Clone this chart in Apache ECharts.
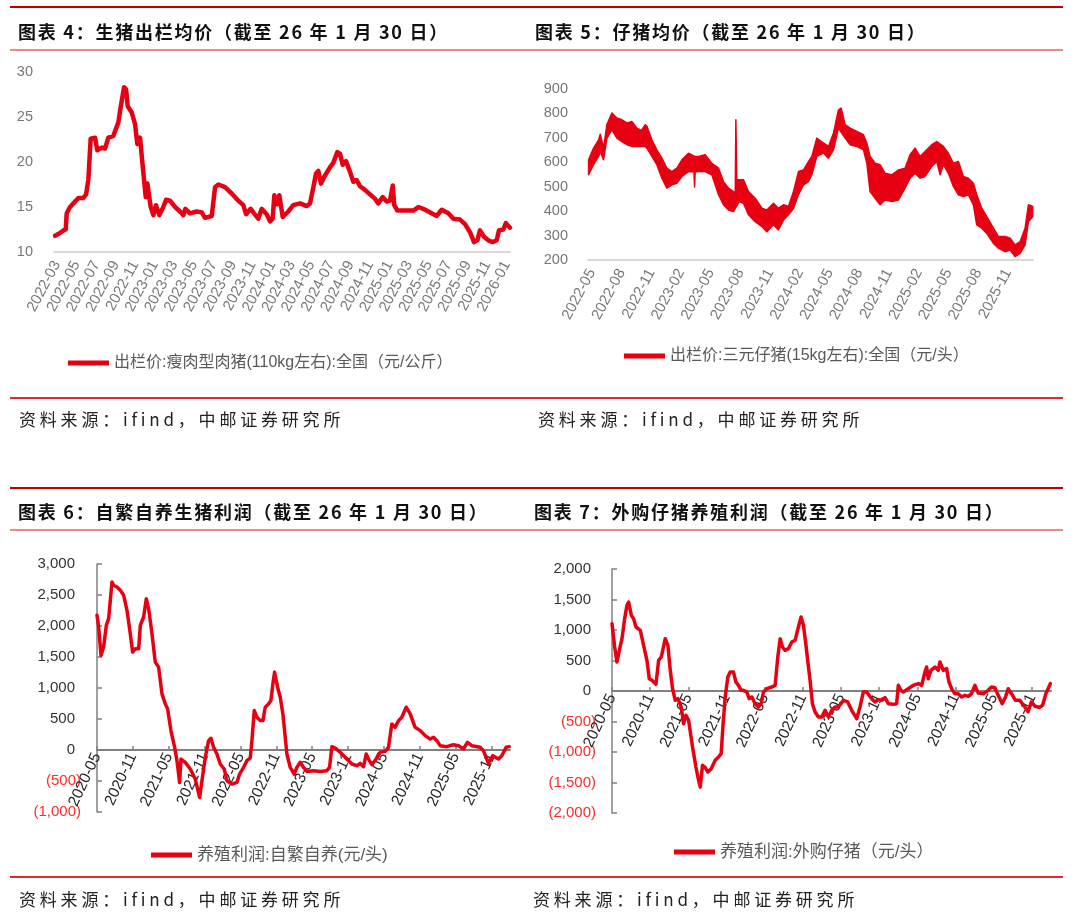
<!DOCTYPE html>
<html>
<head>
<meta charset="utf-8">
<title>生猪价格与养殖利润</title>
<script src="https://cdn.jsdelivr.net/npm/echarts@6/dist/echarts.min.js"></script>
<style>
    html, body { margin: 0; padding: 0; background: #fff; }
    #page { position: relative; width: 1080px; height: 921px; overflow: hidden; }
    #chart { position: absolute; left: 0; top: 0; width: 1080px; height: 921px; }
    .rule { position: absolute; left: 10px; width: 1053px; z-index: 2; }
    .rule.top { height: 2px; background: #c00000; }
    .rule.sub { height: 1.5px; background: #e98b8b; }
    .rule.end { height: 1.5px; background: #dd2a30; }
    .title, .source { position: absolute; z-index: 2; white-space: nowrap; line-height: 22px; }
    .title { font: bold 18px "Noto Sans CJK SC", sans-serif; letter-spacing: 1.75px; color: #111; }
    .source { font: 17px "Noto Sans CJK SC", sans-serif; letter-spacing: 3.8px; color: #222; }
</style>
</head>
<body>
<div id="page">
    <div id="chart"></div>

    <div class="rule top" style="top:6px"></div>
    <div class="rule sub" style="top:49px"></div>
    <div class="rule end" style="top:397px"></div>
    <div class="rule top" style="top:487px"></div>
    <div class="rule sub" style="top:529px"></div>
    <div class="rule end" style="top:876px"></div>

    <div class="title" style="left:18px;top:18px">图表 4：生猪出栏均价（截至 26 年 1 月 30 日）</div>
    <div class="title" style="left:535px;top:18px">图表 5：仔猪均价（截至 26 年 1 月 30 日）</div>
    <div class="title" style="left:18px;top:498px">图表 6：自繁自养生猪利润（截至 26 年 1 月 30 日）</div>
    <div class="title" style="left:534px;top:498px">图表 7：外购仔猪养殖利润（截至 26 年 1 月 30 日）</div>

    <div class="source" style="left:19px;top:406px">资料来源：ifind，中邮证券研究所</div>
    <div class="source" style="left:538px;top:406px">资料来源：ifind，中邮证券研究所</div>
    <div class="source" style="left:19px;top:886px">资料来源：ifind，中邮证券研究所</div>
    <div class="source" style="left:533px;top:886px">资料来源：ifind，中邮证券研究所</div>
</div>
<script>
// x 值均为“距首个刻度月份的月数”
// 图4 出栏价（元/公斤），首刻度 2022-03
var hogLabels = ['2022-03', '2022-05', '2022-07', '2022-09', '2022-11', '2023-01', '2023-03', '2023-05',
    '2023-07', '2023-09', '2023-11', '2024-01', '2024-03', '2024-05', '2024-07', '2024-09', '2024-11',
    '2025-01', '2025-03', '2025-05', '2025-07', '2025-09', '2025-11', '2026-01'];
var hogPrice = [[-0.2, 11.8], [0.31, 12.1], [0.65, 12.4], [0.89, 12.5], [0.99, 14.3], [1.33, 15.0], [1.84, 15.6],
    [2.18, 16.0], [2.69, 16.0], [2.97, 16.4], [3.2, 18.0], [3.44, 22.6], [3.89, 22.7], [4.12, 21.3], [4.57, 21.6],
    [4.91, 21.5], [5.25, 22.7], [5.76, 22.9], [6.27, 24.4], [6.51, 26.1], [6.85, 28.3], [7.06, 28.1], [7.23, 26.2],
    [7.64, 25.5], [7.98, 24.2], [8.21, 22.0], [8.49, 22.7], [8.66, 20.7], [8.9, 18.0], [9.07, 16.1], [9.24, 17.6],
    [9.58, 15.0], [9.85, 14.1], [10.12, 15.2], [10.46, 14.1], [10.87, 15.0], [11.15, 15.8], [11.55, 15.7],
    [12.07, 15.0], [12.58, 14.5], [12.92, 14.1], [13.12, 14.8], [13.6, 14.3], [14.28, 14.5], [14.8, 14.4],
    [15.13, 13.8], [15.82, 14.0], [16.16, 17.2], [16.5, 17.5], [17.18, 17.2], [17.86, 16.5], [18.54, 15.7],
    [19.05, 15.2], [19.33, 14.2], [19.8, 14.8], [20.14, 14.3], [20.58, 13.7], [20.93, 14.8], [21.44, 14.2],
    [21.78, 13.4], [22.05, 13.7], [22.22, 16.3], [22.53, 15.3], [22.73, 16.3], [23.08, 13.9], [23.65, 14.5],
    [24.16, 15.2], [24.85, 15.4], [25.53, 15.1], [25.87, 15.4], [26.21, 17.2], [26.48, 18.7], [26.72, 19.0],
    [26.99, 17.6], [27.4, 18.5], [27.91, 19.4], [28.25, 19.9], [28.66, 21.1], [28.94, 20.9], [29.21, 19.7],
    [29.55, 20.1], [29.96, 18.9], [30.3, 17.8], [30.64, 18.0], [30.98, 17.3], [31.49, 16.9], [32.0, 16.4],
    [32.52, 15.9], [32.85, 15.4], [33.3, 16.1], [33.71, 15.6], [34.05, 15.7], [34.33, 17.4], [34.49, 15.2],
    [34.8, 14.6], [35.42, 14.6], [36.44, 14.6], [36.95, 15.0], [37.63, 14.7], [38.31, 14.3], [38.82, 14.0],
    [39.34, 14.7], [40.02, 14.3], [40.53, 13.7], [41.21, 13.6], [41.72, 13.1], [42.23, 12.2], [42.64, 11.1],
    [42.98, 11.3], [43.25, 12.4], [43.66, 11.7], [44.1, 11.3], [44.55, 11.1], [44.96, 11.3], [45.19, 12.4],
    [45.63, 12.5], [45.9, 13.2], [46.32, 12.7]];

// 图5 仔猪价（元/头），日度波动大，读取上下包络，首刻度 2022-05
var pigletLabels = ['2022-05', '2022-08', '2022-11', '2023-02', '2023-05', '2023-08', '2023-11', '2024-02',
    '2024-05', '2024-08', '2024-11', '2025-02', '2025-05', '2025-08', '2025-11'];
var pigletHigh = [[-0.34, 610], [0.16, 658], [0.67, 692], [0.84, 715], [1.17, 658], [1.51, 754], [2.01, 802],
    [2.52, 781], [3.02, 774], [3.53, 761], [4.03, 767], [4.53, 740], [5.0, 730], [5.38, 754], [5.55, 747],
    [6.05, 692], [6.55, 651], [7.06, 617], [7.56, 576], [8.07, 562], [8.57, 576], [9.08, 610], [9.75, 637],
    [10.36, 624], [10.76, 624], [11.43, 631], [12.1, 596], [12.78, 576], [13.28, 521], [13.79, 494], [14.29, 480],
    [14.47, 478], [14.53, 774], [14.62, 528], [14.86, 528], [15.3, 528], [15.8, 480], [16.48, 453], [17.16, 412],
    [17.65, 405], [18.33, 432], [18.83, 412], [19.34, 426], [19.84, 419], [20.35, 480], [20.85, 562], [21.36, 569],
    [21.86, 603], [22.2, 624], [22.7, 699], [23.37, 679], [23.88, 665], [24.39, 720], [24.89, 815], [25.16, 822],
    [25.56, 754], [26.07, 740], [26.74, 726], [27.41, 713], [27.75, 679], [28.08, 624], [28.59, 596], [29.09, 590],
    [29.6, 555], [30.27, 549], [30.95, 569], [31.61, 576], [32.12, 631], [32.62, 658], [33.13, 624], [33.63, 644],
    [34.31, 672], [34.81, 685], [35.48, 665], [35.99, 637], [36.49, 596], [37.0, 603], [37.5, 542], [38.0, 535],
    [38.51, 514], [38.85, 467], [39.36, 412], [39.86, 378], [40.54, 330], [41.04, 296], [41.71, 296], [42.22, 289],
    [42.72, 262], [43.23, 275], [43.73, 330], [44.07, 426], [44.5, 419]];
var pigletLow = [[-0.34, 549], [0.16, 590], [0.67, 624], [0.84, 644], [1.17, 610], [1.51, 699], [2.01, 733],
    [2.52, 699], [3.02, 685], [3.53, 672], [4.03, 665], [4.53, 665], [5.38, 665], [5.55, 658], [6.05, 624],
    [6.55, 590], [7.06, 535], [7.56, 494], [8.07, 508], [8.57, 514], [9.08, 542], [9.75, 562], [10.3, 560],
    [10.36, 499], [10.42, 560], [10.76, 562], [11.43, 562], [12.1, 549], [12.78, 467], [13.28, 426], [13.79, 405],
    [14.29, 398], [14.86, 439], [15.3, 432], [15.8, 385], [16.48, 357], [17.16, 337], [17.65, 316], [18.33, 344],
    [18.83, 323], [19.34, 364], [19.84, 385], [20.35, 412], [20.85, 467], [21.36, 508], [21.86, 521], [22.2, 549],
    [22.7, 624], [23.37, 638], [23.88, 617], [24.39, 651], [24.89, 740], [25.56, 699], [26.07, 672], [26.74, 665],
    [27.41, 651], [27.75, 597], [28.08, 480], [28.59, 453], [29.09, 426], [29.6, 446], [30.27, 439], [30.95, 446],
    [31.61, 494], [32.12, 535], [32.62, 555], [33.13, 535], [33.63, 542], [34.31, 583], [34.81, 603], [35.15, 549],
    [35.48, 590], [35.99, 555], [36.49, 501], [37.0, 467], [37.5, 460], [38.0, 467], [38.51, 426], [38.85, 344],
    [39.36, 330], [39.86, 309], [40.54, 268], [41.04, 248], [41.71, 234], [42.22, 241], [42.72, 214], [43.23, 227],
    [43.73, 262], [44.07, 357], [44.5, 378]];

// 图6、图7 养殖利润（元/头），首刻度 2020-05
var profitLabels = ['2020-05', '2020-11', '2021-05', '2021-11', '2022-05', '2022-11', '2023-05', '2023-11',
    '2024-05', '2024-11', '2025-05', '2025-11'];
var profitSelf = [[0, 2172], [0.28, 1983], [0.67, 1525], [1.11, 1660], [1.56, 2010], [1.95, 2118], [2.51, 2711],
    [2.79, 2657], [3.34, 2630], [3.9, 2576], [4.46, 2495], [5.02, 2253], [5.57, 1875], [5.96, 1579], [6.41, 1633],
    [6.97, 1633], [7.25, 2010], [7.8, 2145], [8.25, 2441], [8.64, 2280], [9.2, 1875], [9.75, 1417], [10.31, 1337],
    [10.87, 905], [11.43, 744], [11.82, 663], [12.37, 313], [12.99, 43], [13.38, -172], [13.82, -523], [14.05, -146],
    [14.77, -199], [15.61, -307], [16.44, -469], [17.17, -765], [17.56, -496], [18.12, -119], [18.67, 151],
    [19.06, 189], [19.51, 43], [20.07, -65], [20.62, -226], [21.29, -307], [21.74, -496], [22.58, -550],
    [23.41, -523], [23.86, -388], [24.53, -280], [25.08, -172], [25.64, -129], [25.92, 151], [26.31, 636],
    [26.76, 528], [27.31, 474], [27.76, 474], [28.15, 690], [28.71, 744], [29.1, 798], [29.43, 1067], [29.71, 1256],
    [30.21, 1013], [30.66, 852], [31.1, 582], [31.33, 366], [31.77, -65], [32.33, -280], [33.0, -388], [33.44, -280],
    [34.0, -199], [34.56, -280], [35.12, -345], [36.23, -334], [37.35, -345], [38.46, -334], [38.91, -280],
    [39.3, 54], [39.86, 32], [40.69, -38], [41.81, -146], [42.64, -226], [43.48, -253], [44.04, -216], [44.59, -269],
    [45.04, -65], [45.43, -146], [45.99, -237], [46.82, -129], [47.38, -38], [48.22, -22], [48.77, 43], [49.33, 420],
    [49.89, 366], [50.45, 474], [51.0, 528], [51.73, 690], [52.4, 582], [53.23, 366], [54.07, 313], [54.91, 232],
    [55.74, 178], [56.3, 205], [56.86, 151], [57.41, 70], [58.53, 54], [59.64, 86], [60.48, 70], [61.32, 16],
    [61.98, 124], [62.71, 70], [64.1, 43], [64.66, -11], [65.5, -216], [66.22, -92], [67.17, -146], [67.73, -92],
    [68.45, 43], [68.97, 54]];
var profitBuy = [[0, 1104], [0.42, 721], [0.78, 475], [1.15, 667], [1.57, 858], [1.99, 1186], [2.35, 1404],
    [2.62, 1459], [3.04, 1240], [3.4, 1186], [3.77, 1049], [4.45, 995], [4.97, 749], [5.49, 503], [5.86, 202],
    [6.28, 175], [6.91, 109], [7.33, 503], [7.74, 557], [8.37, 858], [8.79, 749], [9.16, 339], [9.52, 38],
    [9.94, -153], [10.36, -126], [10.88, -262], [11.25, -536], [11.62, -399], [12.04, -481], [12.66, -918],
    [13.19, -1246], [13.5, -1410], [13.87, -1574], [14.23, -1219], [14.65, -1257], [15.07, -1328], [15.59, -1273],
    [16.22, -1137], [16.75, -1082], [17.16, -1027], [17.43, -590], [17.79, -98], [18.21, 230], [18.58, 311],
    [19.1, 311], [19.47, 148], [19.88, 93], [20.3, 11], [20.67, 11], [21.19, -16], [21.56, -126], [21.98, -98],
    [22.5, -208], [23.02, -262], [23.44, -208], [23.81, -16], [24.33, 38], [25.12, 66], [25.64, 93], [26.06, 557],
    [26.43, 858], [26.79, 721], [27.21, 667], [27.73, 694], [28.26, 803], [28.78, 831], [29.3, 1049], [29.72, 1213],
    [30.09, 1077], [30.46, 776], [30.87, 404], [31.13, 175], [31.5, -208], [31.92, -344], [32.44, -426],
    [32.97, -426], [33.49, -317], [34.01, -426], [34.54, -317], [35.06, -262], [35.58, -262], [36.37, -153],
    [37.05, -180], [37.68, -317], [38.46, -454], [38.98, -262], [39.51, -16], [40.03, -16], [40.82, -126],
    [41.34, -180], [41.86, -142], [42.39, -153], [42.91, -109], [43.43, -208], [44.22, -219], [44.74, -208],
    [45.0, 93], [45.42, 11], [45.79, -16], [46.57, 38], [47.36, 93], [48.14, 120], [48.67, 93], [49.19, 311],
    [49.45, 393], [49.71, 202], [50.13, 339], [50.76, 393], [51.28, 339], [51.54, 475], [52.07, 339], [52.59, 366],
    [52.96, 148], [53.38, 38], [53.9, -44], [54.42, -44], [54.94, -98], [55.47, -71], [55.99, -87], [56.51, -44],
    [57.04, 93], [57.56, -33], [58.35, -44], [59.13, 11], [59.65, 66], [60.18, 55], [60.7, -71], [61.33, -208],
    [61.85, -98], [62.27, 38], [62.79, -44], [63.42, -153], [64.1, -153], [64.89, -262], [65.4, -340], [65.9, -180],
    [66.5, -250], [67.2, -270], [67.7, -230], [68.2, -40], [68.9, 120]];

var RED = '#e60012';
var NUM_FONT = '"Liberation Sans", Arial, sans-serif';
var CJK_FONT = '"Liberation Sans", "Noto Sans CJK SC", sans-serif';

var NAME_HOG = '出栏价:瘦肉型肉猪(110kg左右):全国（元/公斤）';
var NAME_PIGLET = '出栏价:三元仔猪(15kg左右):全国（元/头）';
var NAME_SELF = '养殖利润:自繁自养(元/头)';
var NAME_BUY = '养殖利润:外购仔猪（元/头）';

var grids = [
    {left: 54, top: 72, width: 456, height: 180},
    {left: 588, top: 89, width: 445, height: 171},
    {left: 97, top: 564, width: 413, height: 248},
    {left: 612, top: 569, width: 439, height: 244}
];

/**
 * 月份刻度的 x 轴，刻度值 = 标签序号 * 步长
 */
function monthAxis(gridIndex, min, max, labels, step) {
    var ticks = labels.map(function (l, i) { return i * step; });
    return {
        gridIndex: gridIndex,
        type: 'value',
        min: min,
        max: max,
        z: 3,
        splitLine: {show: false},
        axisLine: {show: true, lineStyle: {color: '#d9d9d9', width: 2}},
        axisTick: {show: false},
        axisLabel: {
            customValues: ticks,
            rotate: 62,
            margin: 10,
            color: '#777',
            fontSize: 15,
            fontFamily: NUM_FONT,
            formatter: function (v) {
                return labels[Math.round(v / step)] || '';
            }
        }
    };
}

/**
 * 利润图的 x 轴：整条轴（线、刻度、标签）挪到 y=0 处
 */
function profitMonthAxis(gridIndex, yMin, yMax) {
    var ticks = profitLabels.map(function (l, i) { return i * 6; });
    var h = grids[gridIndex].height;
    return {
        gridIndex: gridIndex,
        type: 'value',
        min: 0,
        max: gridIndex === 2 ? 69.1 : 69,
        offset: -h * (0 - yMin) / (yMax - yMin),
        splitLine: {show: false},
        axisLine: {show: true, onZero: false, lineStyle: {color: '#808080', width: 2}},
        axisTick: {show: true, inside: true, length: 4, customValues: ticks, lineStyle: {color: '#808080', width: 1.5}},
        axisLabel: {
            customValues: ticks,
            rotate: 65,
            margin: 4,
            color: '#262626',
            fontSize: 15.5,
            fontFamily: NUM_FONT,
            formatter: function (v) {
                return profitLabels[Math.round(v / 6)] || '';
            }
        }
    };
}

function plainValueAxis(gridIndex, min, max, interval, margin) {
    return {
        gridIndex: gridIndex,
        type: 'value',
        min: min,
        max: max,
        interval: interval,
        axisLine: {show: false},
        axisTick: {show: false},
        splitLine: {show: false},
        axisLabel: {margin: margin, color: '#777', fontSize: 14.5, fontFamily: NUM_FONT}
    };
}

function thousands(v) {
    return String(v).replace(/\B(?=(\d{3})+(?!\d))/g, ',');
}

// 会计格式：负数红色加括号
function profitValueAxis(gridIndex, min, max, padRight) {
    return {
        gridIndex: gridIndex,
        type: 'value',
        min: min,
        max: max,
        interval: 500,
        axisLine: {show: true, onZero: false, lineStyle: {color: '#808080', width: 1.5}},
        axisTick: {show: true, inside: true, length: 5, lineStyle: {color: '#808080', width: 1.5}},
        splitLine: {show: false},
        axisLabel: {
            margin: 16,
            formatter: function (v) {
                return v < 0 ? '{n|(' + thousands(-v) + ')}' : '{p|' + thousands(v) + '}';
            },
            rich: {
                p: {color: '#333', fontSize: 15, fontFamily: NUM_FONT, padding: [0, padRight, 0, 0]},
                n: {color: '#ff2a2a', fontSize: 15, fontFamily: NUM_FONT}
            }
        }
    };
}

function legendAt(name, left, top, fontSize) {
    return {
        data: [name],
        left: left,
        top: top,
        padding: 0,
        icon: 'rect',
        itemWidth: 41,
        itemHeight: 5,
        selectedMode: false,
        textStyle: {color: '#595959', fontSize: fontSize, lineHeight: 20, fontFamily: CJK_FONT}
    };
}

function lineSeries(name, data, axisIndex, width) {
    return {
        name: name,
        type: 'line',
        xAxisIndex: axisIndex,
        yAxisIndex: axisIndex,
        data: data,
        symbol: 'none',
        color: RED,
        itemStyle: {color: RED},
        lineStyle: {color: RED, width: width, cap: 'round', join: 'round'}
    };
}

// 仔猪价：上沿 + 倒序下沿围成的带状区域
function renderPigletBand(params, api) {
    var upper = pigletHigh.map(function (p) { return api.coord(p); });
    var lower = pigletLow.map(function (p) { return api.coord(p); }).reverse();
    return {
        type: 'polygon',
        shape: {points: upper.concat(lower)},
        style: {fill: RED, stroke: RED, lineWidth: 1.5, lineJoin: 'round'}
    };
}

var chart = echarts.init(document.getElementById('chart'));
chart.setOption({
    animation: false,
    backgroundColor: '#ffffff',
    grid: grids,
    xAxis: [
        monthAxis(0, -0.31, 46.32, hogLabels, 2),
        monthAxis(1, -0.4, 44.53, pigletLabels, 3),
        profitMonthAxis(2, -1000, 3000),
        profitMonthAxis(3, -2000, 2000)
    ],
    yAxis: [
        plainValueAxis(0, 10, 30, 5, 21),
        plainValueAxis(1, 200, 900, 100, 20),
        profitValueAxis(2, -1000, 3000, 6),
        profitValueAxis(3, -2000, 2000, 5)
    ],
    legend: [
        legendAt(NAME_HOG, 68, 353, 16),
        legendAt(NAME_PIGLET, 624, 346, 16),
        legendAt(NAME_SELF, 151, 845, 17),
        legendAt(NAME_BUY, 674, 842, 17)
    ],
    series: [
        lineSeries(NAME_HOG, hogPrice, 0, 4.5),
        {
            name: NAME_PIGLET,
            type: 'custom',
            coordinateSystem: 'cartesian2d',
            xAxisIndex: 1,
            yAxisIndex: 1,
            data: [[0, 500]],
            color: RED,
            itemStyle: {color: RED},
            silent: true,
            renderItem: renderPigletBand
        },
        lineSeries(NAME_SELF, profitSelf, 2, 3.5),
        lineSeries(NAME_BUY, profitBuy, 3, 3.5)
    ]
});
</script>
</body>
</html>
